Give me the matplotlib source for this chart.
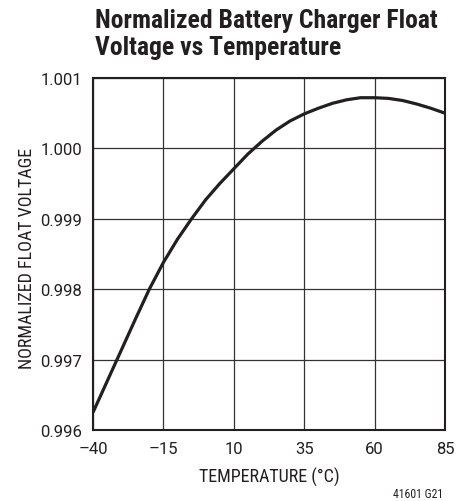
import matplotlib
matplotlib.use("Agg")
import matplotlib.pyplot as plt

temps = [-40, -35, -30, -25, -20, -15, -10, -5, 0, 5, 10, 15, 20, 25, 30, 35, 40, 45, 50, 55, 60, 65, 70, 75, 80, 85]
volts = [0.99625, 0.99669, 0.99713, 0.99757, 0.99800, 0.99838, 0.99871, 0.99900, 0.99927, 0.99950,
         0.99971, 0.99992, 1.00010, 1.00026, 1.00039, 1.00049, 1.00057, 1.00064, 1.00069, 1.00072,
         1.00072, 1.00071, 1.00068, 1.00063, 1.00057, 1.00050]
xticks = [-40, -15, 10, 35, 60, 85]
yticks = [0.996, 0.997, 0.998, 0.999, 1.000, 1.001]

fam = ['Roboto Condensed', 'Roboto', 'DejaVu Sans']
plt.rcParams['font.family'] = fam
col = '#231f20'

fig = plt.figure(figsize=(4.74, 5.02), dpi=100)
ax = fig.add_axes([93/474, 1 - 431/502, 352/474, 352/502])
ax.plot(temps, volts, color=col, lw=2.3, solid_capstyle='butt')
ax.set_xlim(-40, 85)
ax.set_ylim(0.996, 1.001)
ax.set_xticks(xticks)
ax.set_yticks(yticks)
ax.set_xticklabels([f"{t}".replace('-', '\u2013') for t in xticks])
ax.set_yticklabels([f"{v:.3f}" for v in yticks])
ax.grid(True, color='#333333', lw=0.9)
ax.tick_params(length=0, labelsize=12, colors=col, labelfontfamily='Roboto')
ax.tick_params(axis='y', pad=8)
ax.tick_params(axis='x', pad=8)
for s in ax.spines.values():
    s.set_linewidth(1.5)
    s.set_color(col)

xl = fig.text(269/474, 1 - 477/502, 'TEMPERATURE (°C)', fontsize=12, color=col, ha='center', va='center')
yl = fig.text(27/474, 1 - 258/502, 'NORMALIZED FLOAT VOLTAGE', fontsize=12, color=col,
              ha='center', va='center', rotation=90)
t1 = fig.text(95/474, 1 - 21/502, 'Normalized Battery Charger Float', fontsize=17,
              fontweight='bold', color=col, ha='left', va='center')
t2 = fig.text(95/474, 1 - 48/502, 'Voltage vs Temperature', fontsize=17,
              fontweight='bold', color=col, ha='left', va='center')
ft = fig.text(443/474, 1 - 495/502, '41601 G21', fontsize=7.5, color=col, ha='right', va='center')

# fit text sizes to the reference extents (in pixels)
fig.canvas.draw()
r = fig.canvas.get_renderer()
def fit(t, target, horiz=True, maxsize=None):
    bb = t.get_window_extent(r)
    cur = bb.width if horiz else bb.height
    s = t.get_fontsize() * target / cur
    if maxsize:
        s = min(s, maxsize)
    t.set_fontsize(s)
    return s
s1 = fit(t1, 342)
t2.set_fontsize(s1)
fit(xl, 148, maxsize=13)
fit(yl, 233, horiz=False, maxsize=13)
fit(ft, 50)

fig.savefig('out.png', dpi=100)
